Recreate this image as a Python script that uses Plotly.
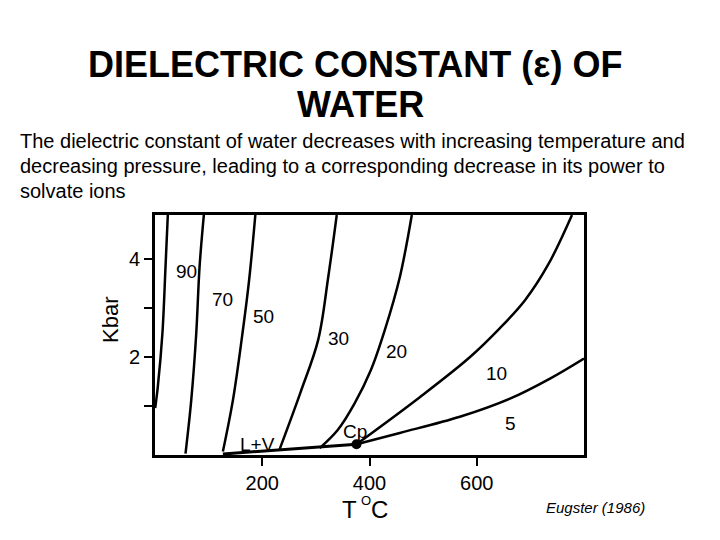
import plotly.graph_objects as go

# ---- data (T in °C, P in kbar) ----
eps_labels = ["90", "70", "50", "30", "20", "10", "5"]
t_90 = [0.4, 5.2, 13.8, 19.6, 23.9]
p_90 = [0.96, 1.39, 2.48, 3.84, 4.9]
t_70 = [56.9, 67.6, 76.9, 83.1, 91.1]
p_70 = [0.03, 1.12, 2.48, 3.84, 4.9]
t_50 = [126.6, 145.3, 161.5, 175.5, 187.1]
p_50 = [0.07, 1.12, 2.35, 3.57, 4.9]
t_30 = [232.5, 271.7, 304.3, 323.0, 338.9]
p_30 = [0.12, 1.29, 2.35, 3.63, 4.9]
t_20 = [307.1, 340.7, 372.5, 402.4, 428.5, 456.5, 478.9]
p_20 = [0.14, 0.51, 1.06, 1.73, 2.55, 3.63, 4.9]
t_10 = [375.7, 493.8, 587.5, 643.2, 690.0, 733.9, 777.6]
p_10 = [0.22, 1.18, 2.00, 2.59, 3.16, 3.90, 4.9]
t_5 = [375.7, 456.5, 568.5, 661.9, 736.6, 800.0]
p_5 = [0.22, 0.45, 0.78, 1.15, 1.56, 1.97]
t_lv = [126.6, 232.5, 307.1, 375.7]
p_lv = [0.02, 0.10, 0.16, 0.22]
t_cp = [375.7]
p_cp = [0.22]

x_tickvals = [200, 400, 600]
x_ticktext = ["200", "400", "600"]
y_tickvals = [2, 4]
y_ticktext = ["2", "4"]
y_minor_ticks = [1, 3]

curves_t = [t_90, t_70, t_50, t_30, t_20, t_10, t_5]
curves_p = [p_90, p_70, p_50, p_30, p_20, p_10, p_5]

# label positions (layout, data coords)
label_pos = [(58.3, 3.74), (126.6, 3.18), (202.6, 2.82), (342.6, 2.38),
             (450.3, 2.11), (637.0, 1.67), (662.0, 0.65)]

FONT = "Arial, Liberation Sans, sans-serif"

fig = go.Figure()
for t, p in zip(curves_t, curves_p):
    fig.add_trace(go.Scatter(x=t, y=p, mode="lines",
                             line=dict(color="black", width=2.5, shape="spline", smoothing=1.0),
                             showlegend=False, hoverinfo="skip"))
fig.add_trace(go.Scatter(x=t_lv, y=p_lv, mode="lines", line=dict(color="black", width=3),
                         showlegend=False, hoverinfo="skip"))
fig.add_trace(go.Scatter(x=t_cp, y=p_cp, mode="markers", marker=dict(color="black", size=10),
                         showlegend=False, hoverinfo="skip", cliponaxis=False))

L, R, T, B = 155, 584, 215, 455


def xp(px):
    return (px - L) / (R - L)


def yp(py):
    return (B - py) / (B - T)


def note(px, py, text, size, xanchor="center", angle=0):
    return dict(x=xp(px), y=yp(py), xref="paper", yref="paper", text=text,
                xanchor=xanchor, yanchor="middle", textangle=angle, showarrow=False,
                font=dict(family=FONT, size=size, color="black"))


ann = []
for lab, (x, y) in zip(eps_labels, label_pos):
    ann.append(dict(x=x, y=y, xref="x", yref="y", text=lab, showarrow=False,
                    xanchor="center", yanchor="middle",
                    font=dict(family=FONT, size=19, color="black")))
ann.append(dict(x=191.4, y=0.22, xref="x", yref="y", text="L+V", showarrow=False,
                xanchor="center", yanchor="middle",
                font=dict(family=FONT, size=19, color="black")))
ann.append(dict(x=373.4, y=0.47, xref="x", yref="y", text="Cp", showarrow=False,
                xanchor="center", yanchor="middle",
                font=dict(family=FONT, size=19, color="black")))

ann.append(note(355, 64, "<b>DIELECTRIC CONSTANT (ε) OF</b>", 36))
ann.append(note(360, 104, "<b>WATER</b>", 36))
sub_lines = ["The dielectric constant of water decreases with increasing temperature and",
             "decreasing pressure, leading to a corresponding decrease in its power to",
             "solvate ions"]
for i, s in enumerate(sub_lines):
    ann.append(note(18, 141 + 25 * i, s, 20, xanchor="left"))
ann.append(note(110, 320, "Kbar", 22, angle=-90))
ann.append(note(349, 509, "T", 24))
ann.append(note(366, 500, "O", 13))
ann.append(note(379, 509, "C", 24))
ann.append(note(595, 507, "<i>Eugster (1986)</i>", 15))

fig.update_layout(
    width=720, height=540,
    margin=dict(l=L, r=720 - R, t=T, b=540 - B, pad=0),
    paper_bgcolor="white", plot_bgcolor="white",
    annotations=ann,
    xaxis=dict(range=[0, 800], tickvals=x_tickvals, ticktext=x_ticktext, ticks="outside",
               ticklen=8, tickwidth=2, tickcolor="black", showgrid=False, zeroline=False,
               showline=True, linecolor="black", linewidth=3, mirror=True,
               tickfont=dict(family=FONT, size=20, color="black")),
    yaxis=dict(range=[0, 4.9], tickvals=y_tickvals, ticktext=y_ticktext, ticks="outside",
               ticklen=8, tickwidth=2, tickcolor="black", showgrid=False, zeroline=False,
               showline=True, linecolor="black", linewidth=3, mirror=True,
               minor=dict(tickvals=y_minor_ticks, ticks="outside", ticklen=8, tickwidth=2,
                          tickcolor="black", showgrid=False),
               tickfont=dict(family=FONT, size=20, color="black")),
)

fig.write_html("out.html")
